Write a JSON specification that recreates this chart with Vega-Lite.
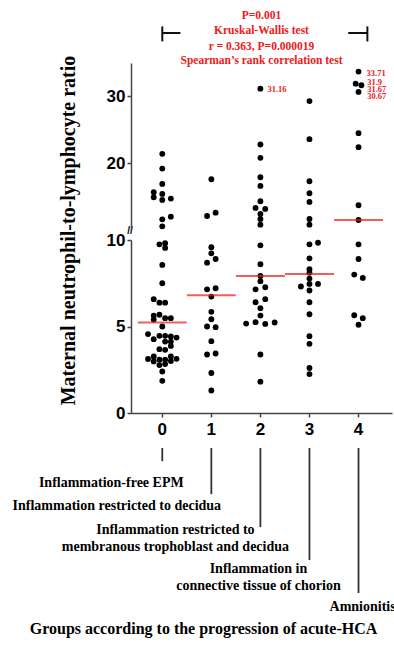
{
  "$schema": "https://vega.github.io/schema/vega-lite/v6.json",
  "padding": {"left": 12, "top": 9, "right": 5, "bottom": 5},
  "background": "white",
  "config": {
    "view": {"stroke": null}
  },
  "datasets": {
    "pts": [
      {"g":"0","nlr":21.4,"lane":0},{"g":"0","nlr":19.2,"lane":0},{"g":"0","nlr":16.9,"lane":0},
      {"g":"0","nlr":15.65,"lane":-3},{"g":"0","nlr":15.4,"lane":0},{"g":"0","nlr":14.9,"lane":-3},
      {"g":"0","nlr":14.7,"lane":3},{"g":"0","nlr":14.5,"lane":0},{"g":"0","nlr":12.0,"lane":3},
      {"g":"0","nlr":11.6,"lane":0},{"g":"0","nlr":10.55,"lane":0},{"g":"0","nlr":9.81,"lane":1},
      {"g":"0","nlr":9.75,"lane":-1},{"g":"0","nlr":9.54,"lane":1},{"g":"0","nlr":8.56,"lane":0},
      {"g":"0","nlr":7.5,"lane":0},{"g":"0","nlr":6.58,"lane":-3},{"g":"0","nlr":6.38,"lane":-1},
      {"g":"0","nlr":6.38,"lane":1},{"g":"0","nlr":5.68,"lane":-1},{"g":"0","nlr":5.63,"lane":-3},
      {"g":"0","nlr":5.48,"lane":1},{"g":"0","nlr":5.48,"lane":3},{"g":"0","nlr":5.4,"lane":-3},
      {"g":"0","nlr":5.0,"lane":0},{"g":"0","nlr":4.56,"lane":-5},{"g":"0","nlr":4.46,"lane":-1},
      {"g":"0","nlr":4.46,"lane":1},{"g":"0","nlr":4.42,"lane":3},{"g":"0","nlr":4.36,"lane":5},
      {"g":"0","nlr":4.27,"lane":-3},{"g":"0","nlr":4.13,"lane":1},{"g":"0","nlr":4.13,"lane":3},
      {"g":"0","nlr":3.88,"lane":3},{"g":"0","nlr":3.69,"lane":-1},{"g":"0","nlr":3.65,"lane":1},
      {"g":"0","nlr":3.27,"lane":-3},{"g":"0","nlr":3.27,"lane":3},{"g":"0","nlr":3.13,"lane":5},
      {"g":"0","nlr":3.12,"lane":-5},{"g":"0","nlr":3.08,"lane":-1},{"g":"0","nlr":3.08,"lane":1},
      {"g":"0","nlr":3.0,"lane":3},{"g":"0","nlr":2.98,"lane":-3},{"g":"0","nlr":2.83,"lane":1},
      {"g":"0","nlr":2.77,"lane":-1},{"g":"0","nlr":2.4,"lane":0},{"g":"0","nlr":1.86,"lane":0},

      {"g":"1","nlr":17.6,"lane":0},{"g":"1","nlr":12.6,"lane":1.5},{"g":"1","nlr":12.1,"lane":-1.5},
      {"g":"1","nlr":9.58,"lane":0},{"g":"1","nlr":9.23,"lane":0},{"g":"1","nlr":8.9,"lane":1.5},
      {"g":"1","nlr":8.69,"lane":-1.5},{"g":"1","nlr":7.21,"lane":1.5},{"g":"1","nlr":7.15,"lane":-1.5},
      {"g":"1","nlr":6.73,"lane":0},{"g":"1","nlr":5.85,"lane":0},{"g":"1","nlr":5.42,"lane":0},
      {"g":"1","nlr":5.0,"lane":-1.5},{"g":"1","nlr":4.96,"lane":1.5},{"g":"1","nlr":4.15,"lane":0},
      {"g":"1","nlr":3.44,"lane":1.5},{"g":"1","nlr":3.38,"lane":-1.5},{"g":"1","nlr":2.31,"lane":0},
      {"g":"1","nlr":1.3,"lane":0},

      {"g":"2","nlr":31.16,"lane":0},{"g":"2","nlr":22.8,"lane":0},{"g":"2","nlr":20.8,"lane":0},
      {"g":"2","nlr":17.9,"lane":0},{"g":"2","nlr":16.6,"lane":0},{"g":"2","nlr":14.3,"lane":0},
      {"g":"2","nlr":13.3,"lane":-1.7},{"g":"2","nlr":13.15,"lane":1.7},{"g":"2","nlr":12.4,"lane":0},
      {"g":"2","nlr":11.65,"lane":0},{"g":"2","nlr":10.8,"lane":0},{"g":"2","nlr":9.69,"lane":0},
      {"g":"2","nlr":8.6,"lane":0},{"g":"2","nlr":7.92,"lane":0},{"g":"2","nlr":7.62,"lane":0},
      {"g":"2","nlr":7.27,"lane":1.7},{"g":"2","nlr":7.15,"lane":-1.7},{"g":"2","nlr":6.58,"lane":1.7},
      {"g":"2","nlr":6.4,"lane":-1.7},{"g":"2","nlr":6.06,"lane":0},{"g":"2","nlr":5.63,"lane":0},
      {"g":"2","nlr":5.25,"lane":-1.7},{"g":"2","nlr":5.23,"lane":5},{"g":"2","nlr":5.17,"lane":-5},
      {"g":"2","nlr":5.15,"lane":1.7},{"g":"2","nlr":3.38,"lane":0},{"g":"2","nlr":1.81,"lane":0},

      {"g":"3","nlr":29.3,"lane":0},{"g":"3","nlr":23.6,"lane":0},{"g":"3","nlr":17.3,"lane":0},
      {"g":"3","nlr":15.5,"lane":0},{"g":"3","nlr":14.2,"lane":0},{"g":"3","nlr":11.65,"lane":0},
      {"g":"3","nlr":10.8,"lane":0},{"g":"3","nlr":9.84,"lane":3},{"g":"3","nlr":9.75,"lane":0},
      {"g":"3","nlr":8.94,"lane":0},{"g":"3","nlr":8.31,"lane":0},{"g":"3","nlr":8.11,"lane":0},
      {"g":"3","nlr":7.77,"lane":0},{"g":"3","nlr":7.46,"lane":0},{"g":"3","nlr":7.46,"lane":3},
      {"g":"3","nlr":7.31,"lane":-3},{"g":"3","nlr":7.08,"lane":0},{"g":"3","nlr":6.4,"lane":0},
      {"g":"3","nlr":5.71,"lane":0},{"g":"3","nlr":4.44,"lane":0},{"g":"3","nlr":4.0,"lane":0},
      {"g":"3","nlr":2.6,"lane":0},{"g":"3","nlr":2.25,"lane":0},

      {"g":"4","nlr":33.71,"lane":0},{"g":"4","nlr":31.9,"lane":-1},{"g":"4","nlr":31.67,"lane":1},
      {"g":"4","nlr":30.67,"lane":0},{"g":"4","nlr":24.5,"lane":0},{"g":"4","nlr":22.4,"lane":0},
      {"g":"4","nlr":13.7,"lane":0},{"g":"4","nlr":11.5,"lane":0},{"g":"4","nlr":9.75,"lane":0},
      {"g":"4","nlr":8.9,"lane":0},{"g":"4","nlr":8.0,"lane":-1.5},{"g":"4","nlr":7.81,"lane":1.5},
      {"g":"4","nlr":5.65,"lane":-1.5},{"g":"4","nlr":5.48,"lane":1.5},{"g":"4","nlr":5.1,"lane":0}
    ],
    "med": [
      {"g":"0","median":5.23},{"g":"1","median":6.81},{"g":"2","median":7.92},
      {"g":"3","median":8.04},{"g":"4","median":11.5}
    ],
    "ann": [
      {"g":"0","level":1,"label":"Inflammation-free EPM"},
      {"g":"1","level":2,"label":"Inflammation restricted to decidua"},
      {"g":"2","level":3,"label":["Inflammation restricted to","membranous trophoblast and decidua"]},
      {"g":"3","level":4,"label":["Inflammation in","connective tissue of chorion"]},
      {"g":"4","level":5,"label":"Amnionitis"}
    ]
  },
  "bounds": "flush",
  "spacing": 10,
  "vconcat": [
    {
      "width": 261,
      "height": 167,
      "title": {
        "text": ["P=0.001", "Kruskal-Wallis test"],
        "subtitle": ["r = 0.363, P=0.000019", "Spearman’s rank correlation test"],
        "anchor": "middle",
        "frame": "group",
        "font": "Liberation Serif",
        "fontSize": 11.5,
        "fontWeight": "bold",
        "color": "#f01818",
        "lineHeight": 14.7,
        "subtitleFont": "Liberation Serif",
        "subtitleFontSize": 11.5,
        "subtitleFontWeight": "bold",
        "subtitleColor": "#f01818",
        "subtitleLineHeight": 14.3,
        "subtitlePadding": 4.5,
        "offset": -41
      },
      "resolve": {"scale": {"x": "independent"}},
      "layer": [
        {
          "encoding": {
            "x": {"field": "g", "type": "nominal", "scale": {"type": "band", "domain": ["0","1","2","3","4"], "paddingInner": 0, "paddingOuter": 0.16, "align": 0.43}, "axis": null}
          },
          "layer": [
            {
              "data": {"name": "pts"},
              "transform": [{"filter": "datum.nlr > 10"}],
              "mark": {"type": "circle", "size": 34, "color": "#000", "opacity": 1},
              "encoding": {
                "xOffset": {"field": "lane", "type": "quantitative", "scale": {"domain": [-8.6, 8.6], "range": [0, 49.06]}},
                "y": {
                  "field": "nlr", "type": "quantitative", "scale": {"domain": [10, 35]},
                  "axis": {
                    "title": null,
                    "grid": false,
                    "values": [10, 20, 30],
                    "labelExpr": "datum.value == 10 ? '//' : datum.label",
                    "labelAlign": {"condition": {"test": "datum.value == 10", "value": "center"}, "value": "right"},
                    "labelPadding": {"condition": {"test": "datum.value == 10", "value": -2.5}, "value": 2},
                    "labelFontSize": {"condition": {"test": "datum.value == 10", "value": 10}, "value": 17},
                    "tickOpacity": {"condition": {"test": "datum.value == 10", "value": 0}, "value": 1},
                    "domainColor": "#444",
                    "domainWidth": 1.5,
                    "tickColor": "#444",
                    "tickWidth": 1.5,
                    "tickSize": 4,
                    "labelFont": "Liberation Sans",
                    "labelFontWeight": "bold",
                    "labelColor": "#000"
                  }
                }
              }
            },
            {
              "data": {"name": "med"},
              "transform": [{"filter": "datum.median > 10"}],
              "mark": {"type": "tick", "color": "#f01818", "thickness": 2, "size": 49},
              "encoding": {
                "y": {"field": "median", "type": "quantitative", "scale": {"domain": [10, 35]}}
              }
            },
            {
              "data": {"name": "pts"},
              "transform": [{"filter": "datum.nlr == 31.16"}],
              "mark": {"type": "text", "align": "left", "baseline": "middle", "dx": 7, "dy": 0.5, "font": "Liberation Serif", "fontWeight": "bold", "fontSize": 8.5, "color": "#f01818"},
              "encoding": {
                "y": {"field": "nlr", "type": "quantitative", "scale": {"domain": [10, 35]}},
                "text": {"field": "nlr", "type": "nominal"}
              }
            },
            {
              "data": {"name": "pts"},
              "transform": [{"filter": "datum.nlr == 33.71"}],
              "mark": {"type": "text", "align": "left", "baseline": "middle", "dx": 8, "dy": 1.7, "font": "Liberation Serif", "fontWeight": "bold", "fontSize": 8.5, "color": "#f01818"},
              "encoding": {
                "y": {"field": "nlr", "type": "quantitative", "scale": {"domain": [10, 35]}},
                "text": {"field": "nlr", "type": "nominal"}
              }
            },
            {
              "data": {"name": "pts"},
              "transform": [{"filter": "datum.nlr == 31.9"}],
              "mark": {"type": "text", "align": "left", "baseline": "middle", "dx": 8.7, "dy": -2, "font": "Liberation Serif", "fontWeight": "bold", "fontSize": 8.5, "color": "#f01818"},
              "encoding": {
                "y": {"field": "nlr", "type": "quantitative", "scale": {"domain": [10, 35]}},
                "text": {"field": "nlr", "type": "nominal"}
              }
            },
            {
              "data": {"name": "pts"},
              "transform": [{"filter": "datum.nlr == 31.67 || datum.nlr == 30.67"}],
              "mark": {"type": "text", "align": "left", "baseline": "middle", "dx": 8.7, "dy": 3.8, "font": "Liberation Serif", "fontWeight": "bold", "fontSize": 8.5, "color": "#f01818"},
              "encoding": {
                "y": {"field": "nlr", "type": "quantitative", "scale": {"domain": [10, 35]}},
                "text": {"field": "nlr", "type": "nominal"}
              }
            }
          ]
        },
        {
          "data": {"values": [{"part": "bracket"}]},
          "layer": [
            {
              "mark": {"type": "rule", "color": "#111", "strokeWidth": 2},
              "encoding": {
                "x": {"datum": 0, "type": "quantitative", "scale": {"domain": [-0.638, 4.682]}, "axis": null},
                "y": {"datum": 38.23, "type": "quantitative", "scale": {"domain": [10, 35]}},
                "y2": {"datum": 40.48}
              }
            },
            {
              "mark": {"type": "rule", "color": "#111", "strokeWidth": 2},
              "encoding": {
                "x": {"datum": 0, "type": "quantitative", "scale": {"domain": [-0.638, 4.682]}, "axis": null},
                "x2": {"datum": 0.37},
                "y": {"datum": 39.49, "type": "quantitative", "scale": {"domain": [10, 35]}}
              }
            },
            {
              "mark": {"type": "rule", "color": "#111", "strokeWidth": 2},
              "encoding": {
                "x": {"datum": 3.79, "type": "quantitative", "scale": {"domain": [-0.638, 4.682]}, "axis": null},
                "x2": {"datum": 4.18},
                "y": {"datum": 39.49, "type": "quantitative", "scale": {"domain": [10, 35]}}
              }
            },
            {
              "mark": {"type": "rule", "color": "#111", "strokeWidth": 2},
              "encoding": {
                "x": {"datum": 4.18, "type": "quantitative", "scale": {"domain": [-0.638, 4.682]}, "axis": null},
                "y": {"datum": 38.23, "type": "quantitative", "scale": {"domain": [10, 35]}},
                "y2": {"datum": 40.48}
              }
            }
          ]
        }
      ]
    },
    {
      "width": 261,
      "height": 173,
      "encoding": {
        "x": {"field": "g", "type": "nominal", "scale": {"type": "band", "domain": ["0","1","2","3","4"], "paddingInner": 0, "paddingOuter": 0.16, "align": 0.43},
              "axis": {"title": null, "grid": false, "labelAngle": 0, "labelPadding": 4, "domainColor": "#444", "domainWidth": 1.5, "tickColor": "#444", "tickWidth": 1.5, "tickSize": 4,
                       "labelFont": "Liberation Sans", "labelFontWeight": "bold", "labelFontSize": 17, "labelColor": "#000"}}
      },
      "layer": [
        {
          "data": {"name": "pts"},
          "transform": [{"filter": "datum.nlr <= 10"}],
          "mark": {"type": "circle", "size": 34, "color": "#000", "opacity": 1},
          "encoding": {
            "xOffset": {"field": "lane", "type": "quantitative", "scale": {"domain": [-8.6, 8.6], "range": [0, 49.06]}},
            "y": {
              "field": "nlr", "type": "quantitative", "scale": {"domain": [0, 10]},
              "axis": {
                "values": [0, 5, 10],
                "grid": false,
                "domainColor": "#444",
                "domainWidth": 1.5,
                "tickColor": "#444",
                "tickWidth": 1.5,
                "tickSize": 4,
                "labelPadding": 2,
                "labelFont": "Liberation Sans",
                "labelFontWeight": "bold",
                "labelFontSize": 17,
                "labelColor": "#000",
                "title": "Maternal neutrophil-to-lymphocyte ratio",
                "titleFont": "Liberation Serif",
                "titleFontWeight": "bold",
                "titleColor": "#000",
                "titleFontSize": 20,
                "titleX": -63,
                "titleY": -10,
                "titleAngle": -90,
                "titleAlign": "center",
                "titleBaseline": "middle"
              }
            }
          }
        },
        {
          "data": {"name": "med"},
          "transform": [{"filter": "datum.median <= 10"}],
          "mark": {"type": "tick", "color": "#f01818", "thickness": 2, "size": 49},
          "encoding": {
            "y": {"field": "median", "type": "quantitative", "scale": {"domain": [0, 10]}}
          }
        }
      ]
    },
    {
      "width": 261,
      "height": 170,
      "data": {"name": "ann"},
      "encoding": {
        "x": {"field": "g", "type": "nominal", "scale": {"type": "band", "domain": ["0","1","2","3","4"], "paddingInner": 0, "paddingOuter": 0.16, "align": 0.43},
              "axis": {"labels": false, "ticks": false, "domain": false, "grid": false, "title": "Groups according to the progression of acute-HCA",
                       "titleFont": "Liberation Serif", "titleFontWeight": "bold", "titleColor": "#000", "titleFontSize": 16, "titleX": 72, "titleY": 35, "titleAlign": "center", "titleBaseline": "middle"}},
        "y": {"field": "level", "type": "quantitative", "scale": {"domain": [-0.159, 5], "reverse": true}, "axis": null}
      },
      "layer": [
        {
          "mark": {"type": "rule", "color": "#333", "strokeWidth": 1.8},
          "encoding": {
            "y2": {"datum": 0.6}
          }
        },
        {
          "transform": [{"filter": "datum.g == '0'"}],
          "mark": {"type": "text", "align": "center", "baseline": "middle", "dx": -51, "dy": 21.8, "font": "Liberation Serif", "fontWeight": "bold", "fontSize": 14, "lineHeight": 16.7, "color": "#000"},
          "encoding": {"text": {"field": "label"}}
        },
        {
          "transform": [{"filter": "datum.g == '1'"}],
          "mark": {"type": "text", "align": "center", "baseline": "middle", "dx": -94.5, "dy": 11.9, "font": "Liberation Serif", "fontWeight": "bold", "fontSize": 14, "lineHeight": 16.7, "color": "#000"},
          "encoding": {"text": {"field": "label"}}
        },
        {
          "transform": [{"filter": "datum.g == '2'"}],
          "mark": {"type": "text", "align": "center", "baseline": "middle", "dx": -85, "dy": 2.9, "font": "Liberation Serif", "fontWeight": "bold", "fontSize": 14, "lineHeight": 16.7, "color": "#000"},
          "encoding": {"text": {"field": "label"}}
        },
        {
          "transform": [{"filter": "datum.g == '3'"}],
          "mark": {"type": "text", "align": "center", "baseline": "middle", "dx": -51, "dy": 9, "font": "Liberation Serif", "fontWeight": "bold", "fontSize": 14, "lineHeight": 16.7, "color": "#000"},
          "encoding": {"text": {"field": "label"}}
        },
        {
          "transform": [{"filter": "datum.g == '4'"}],
          "mark": {"type": "text", "align": "left", "baseline": "middle", "dx": -29, "dy": 13.7, "font": "Liberation Serif", "fontWeight": "bold", "fontSize": 14, "lineHeight": 16.7, "color": "#000"},
          "encoding": {"text": {"field": "label"}}
        }
      ]
    }
  ]
}
